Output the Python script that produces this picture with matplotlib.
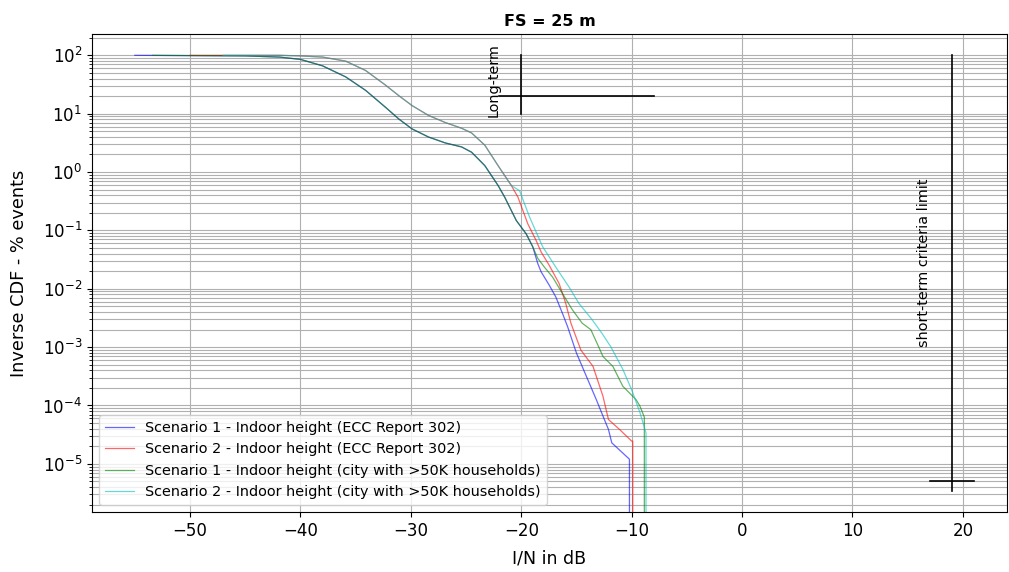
import matplotlib
matplotlib.use("Agg")
import matplotlib.pyplot as plt
import numpy as np

# I/N (dB) and log10(% events)
s1_ecc_x = [-55.0, -45.0, -41.9, -40.0, -38.0, -35.9, -34.1, -32.3, -31.1, -29.9, -28.4, -26.9,
            -25.4, -24.5, -23.3, -22.1, -21.5, -20.45, -19.55, -18.96, -18.5, -18.2, -17.46,
            -16.87, -16.27, -15.8, -15.2, -15.0, -14.1, -13.2, -12.6, -12.1, -11.8, -10.2, -10.2]
s1_ecc_y = [2.0, 1.99, 1.97, 1.93, 1.82, 1.63, 1.40, 1.11, 0.91, 0.74, 0.60, 0.50,
            0.43, 0.34, 0.11, -0.23, -0.43, -0.83, -1.06, -1.28, -1.57, -1.71, -1.94,
            -2.14, -2.42, -2.65, -2.99, -3.10, -3.50, -3.90, -4.18, -4.41, -4.64, -4.92, -7.0]

s2_ecc_x = [-50.0, -41.9, -40.0, -38.0, -35.9, -34.1, -32.3, -31.1, -29.9, -28.4, -26.9, -25.4,
            -24.5, -23.3, -22.1, -20.9, -20.3, -19.4, -18.66, -18.2, -17.46, -16.57, -15.97,
            -15.5, -14.6, -13.5, -12.6, -12.1, -11.1, -10.0, -9.9, -9.9]
s2_ecc_y = [2.0, 2.0, 1.99, 1.97, 1.90, 1.74, 1.49, 1.31, 1.14, 0.97, 0.85, 0.75,
            0.67, 0.46, 0.11, -0.23, -0.43, -0.89, -1.17, -1.37, -1.60, -1.91, -2.25,
            -2.59, -3.05, -3.33, -3.84, -4.24, -4.41, -4.61, -4.61, -7.0]

s1_city_x = [-53.4, -45.0, -41.9, -40.0, -38.0, -35.9, -34.1, -32.3, -31.1, -29.9, -28.4, -26.9,
             -25.4, -24.5, -23.3, -22.1, -21.5, -20.45, -19.55, -18.96, -18.5, -17.9, -17.16,
             -16.27, -15.37, -14.48, -13.7, -13.0, -12.6, -11.7, -10.8, -9.6, -9.25, -8.85, -8.85]
s1_city_y = [2.0, 1.99, 1.97, 1.93, 1.82, 1.63, 1.40, 1.11, 0.91, 0.74, 0.60, 0.50,
             0.43, 0.34, 0.11, -0.23, -0.43, -0.83, -1.06, -1.28, -1.48, -1.63, -1.80,
             -2.08, -2.36, -2.59, -2.70, -2.99, -3.16, -3.33, -3.67, -3.90, -4.01, -4.2, -7.0]

s2_city_x = [-47.0, -41.9, -40.0, -38.0, -35.9, -34.1, -32.3, -31.1, -29.9, -28.4, -26.9, -25.4,
             -24.5, -23.3, -22.1, -20.9, -20.15, -19.25, -18.06, -16.87, -15.67, -14.78,
             -13.58, -12.7, -11.9, -10.8, -10.0, -9.25, -8.7, -8.7]
s2_city_y = [2.0, 2.0, 1.99, 1.97, 1.90, 1.74, 1.49, 1.31, 1.14, 0.97, 0.85, 0.75,
             0.67, 0.46, 0.11, -0.23, -0.32, -0.77, -1.28, -1.63, -1.97, -2.25,
             -2.53, -2.76, -2.99, -3.38, -3.73, -4.12, -4.47, -7.0]

labels = ["Scenario 1 - Indoor height (ECC Report 302)",
          "Scenario 2 - Indoor height (ECC Report 302)",
          "Scenario 1 - Indoor height (city with >50K households)",
          "Scenario 2 - Indoor height (city with >50K households)"]
colors = ["blue", "red", "green", "c"]
y_ticks = [1e-5, 1e-4, 1e-3, 1e-2, 1e-1, 1e0, 1e1, 1e2]

# criteria markers
long_term_x = -20
long_term_pct = 20
long_term_span = (-22, -8)
short_term_x = 19
short_term_pct = 5.1e-6
short_term_span = (17, 21)

fig = plt.figure(figsize=(10.09, 5.72), dpi=100)
ax = fig.add_axes([0.091, 0.105, 0.907, 0.835])

series = [(s1_ecc_x, s1_ecc_y), (s2_ecc_x, s2_ecc_y), (s1_city_x, s1_city_y), (s2_city_x, s2_city_y)]
for (xs, ys), lab, col in zip(series, labels, colors):
    ax.semilogy(xs, 10 ** np.array(ys), color=col, lw=0.9, alpha=0.6, label=lab)

# long-term criterion
ax.plot([long_term_x, long_term_x], [100, 10], color="black", lw=1.2)
ax.plot(long_term_span, [long_term_pct, long_term_pct], color="black", lw=1.2)
ax.text(long_term_x - 2.5, 37, "Long-term", rotation=90, ha="center", va="center", fontsize=10.4)

# short-term criterion
ax.plot([short_term_x, short_term_x], [100, 3.4e-6], color="black", lw=1.2)
ax.plot(short_term_span, [short_term_pct, short_term_pct], color="black", lw=1.2)
ax.text(short_term_x - 2.5, 2.75e-2, "short-term criteria limit", rotation=90, ha="center",
        va="center", fontsize=10.4)

ax.set_xlim(-58.9, 24.0)
ax.set_yticks(y_ticks)
ax.set_ylim(1.5e-6, 229)
ax.grid(True, which="both", color="#b0b0b0", lw=0.8)
ax.tick_params(labelsize=12)
ax.set_xlabel("I/N in dB", fontsize=12.5, labelpad=7)
ax.set_ylabel("Inverse CDF - % events", fontsize=12.8, labelpad=10)
ax.set_title("FS = 25 m", fontweight="bold", fontsize=11.5)
ax.legend(loc="lower left", fontsize=10.4)

fig.savefig("out.png", dpi=100)
